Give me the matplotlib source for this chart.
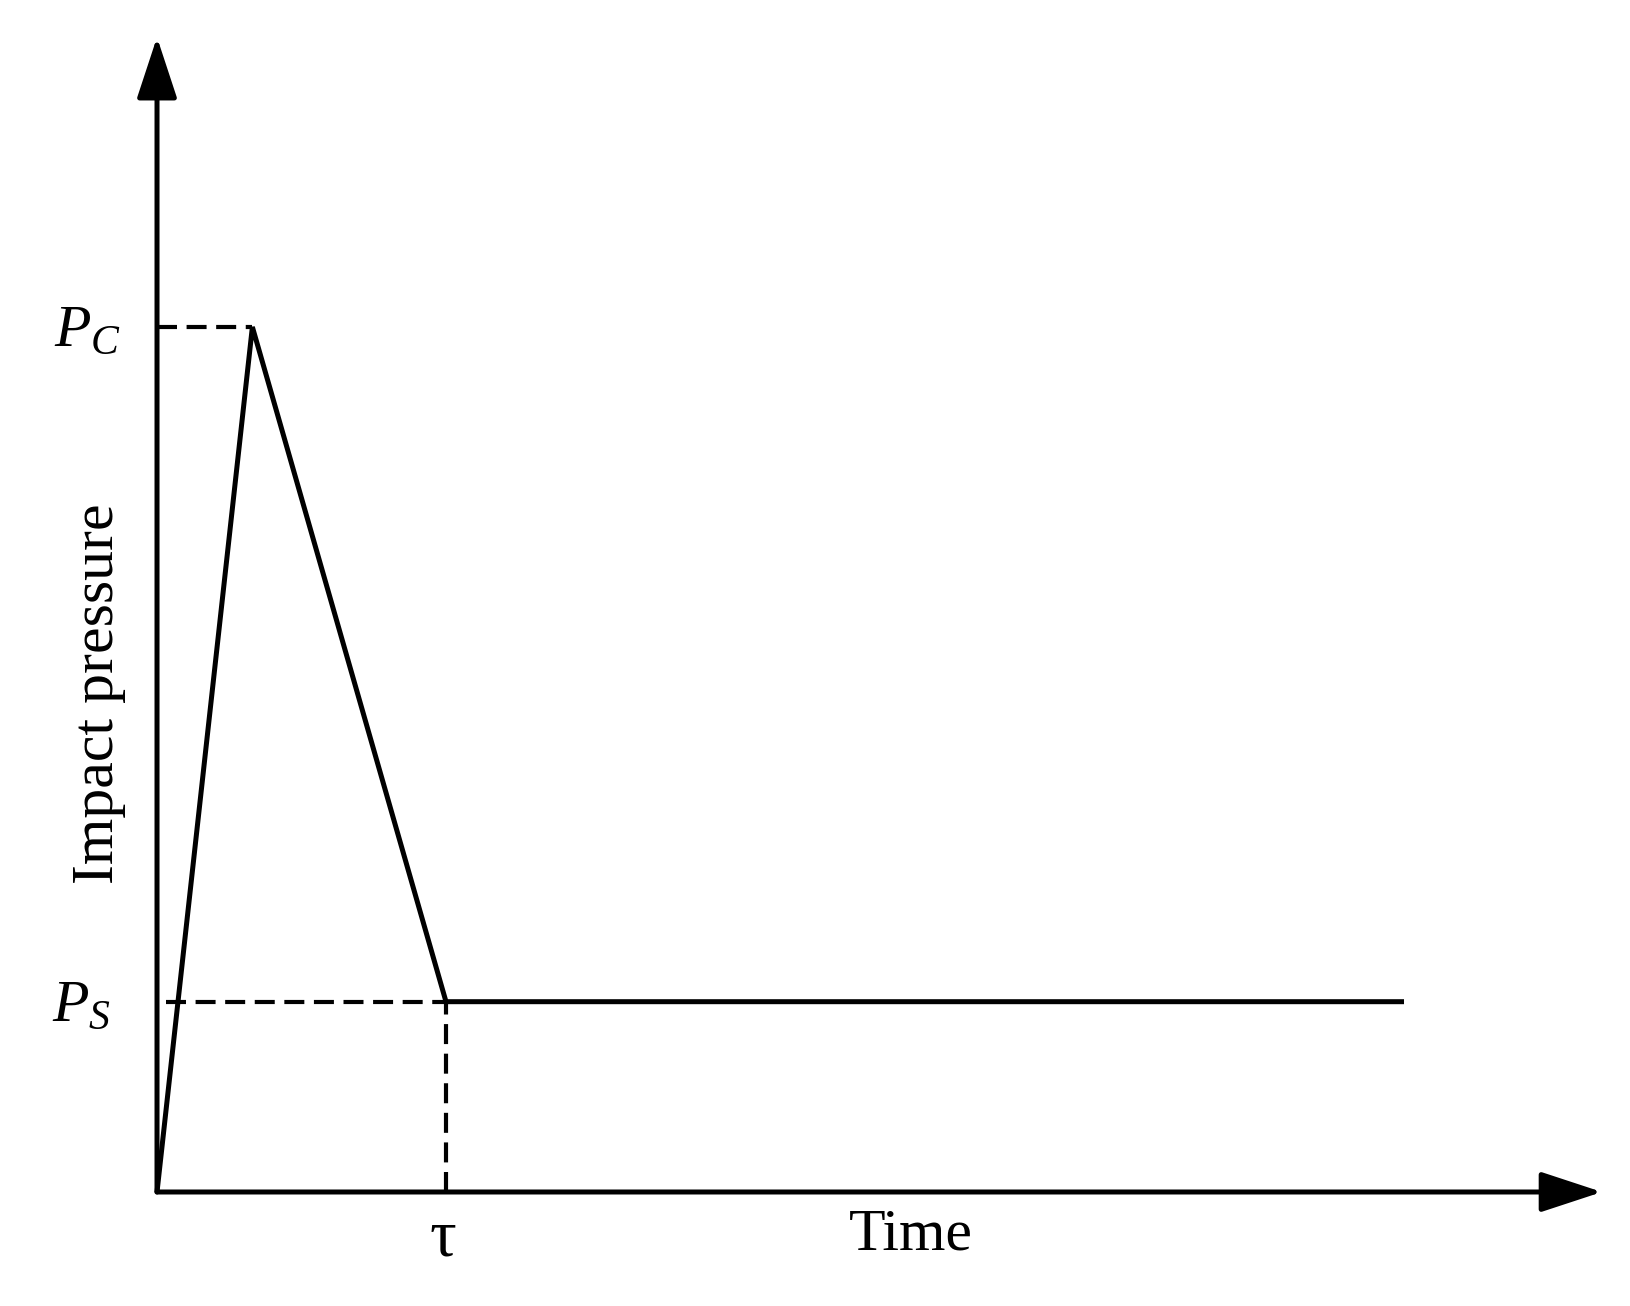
import numpy as np
import matplotlib
matplotlib.use("Agg")
import matplotlib.pyplot as plt

# pressure history (time in units of tau, pressure in units of Pc)
time_pts = [0.0, 0.33, 1.0, 4.315]
pressure_pts = [0.0, 1.0, 0.22, 0.22]

t_peak = 0.33
t_tau = 1.0
p_c = 1.0
p_s = 0.22

x_axis_end = 5.0
y_axis_end = 1.335

level_labels = [r"$P_C$", r"$P_S$"]
tau_label = "τ"
x_title = "Time"
y_title = "Impact pressure"

plt.rcParams["font.family"] = ["Liberation Serif", "DejaVu Serif"]
plt.rcParams["mathtext.fontset"] = "custom"
plt.rcParams["mathtext.rm"] = "Liberation Serif"
plt.rcParams["mathtext.it"] = "Liberation Serif:italic"


def draw_axes(ax):
	# hand drawn style axes with filled arrow heads
	arrow = dict(arrowstyle="-|>,head_length=0.38,head_width=0.125", lw=3.6,
				 color="black", mutation_scale=100, shrinkA=0, shrinkB=0)
	ax.annotate("", xy=(x_axis_end, 0), xytext=(0, 0), arrowprops=arrow)
	ax.annotate("", xy=(0, y_axis_end), xytext=(0, 0), arrowprops=arrow)


def main():
	fig = plt.figure(figsize=(16.3, 13.06), dpi=100)
	ax = fig.add_axes([0, 0, 1, 1])
	ax.set_xlim(-0.5433, 5.097)
	ax.set_ylim(-0.1318, 1.378)
	ax.axis("off")

	draw_axes(ax)

	# pressure curve
	ax.plot(time_pts, pressure_pts, color="black", lw=3.6,
			solid_joinstyle="miter", solid_capstyle="butt")

	# dashed guide lines
	dash = dict(color="black", lw=3.0, dashes=(4.8, 2.3))
	ax.plot([0, t_peak], [p_c, p_c], **dash)
	ax.plot([0.03, t_tau], [p_s, p_s], **dash)
	ax.plot([t_tau, t_tau], [0, p_s], **dash)

	# labels
	ax.text(-0.24, p_c - 0.006, level_labels[0], fontsize=43, ha="center", va="center")
	ax.text(-0.26, p_s - 0.006, level_labels[1], fontsize=43, ha="center", va="center")
	ax.text(t_tau - 0.01, -0.054, tau_label, fontsize=48, ha="center", va="center")
	ax.text(2.61, -0.05, x_title, fontsize=43, ha="center", va="center")
	ax.text(-0.20, 0.576, y_title, fontsize=43, ha="center", va="center", rotation=90)

	fig.savefig("out.png", dpi=100)


if (__name__ == "__main__"):
	main()
